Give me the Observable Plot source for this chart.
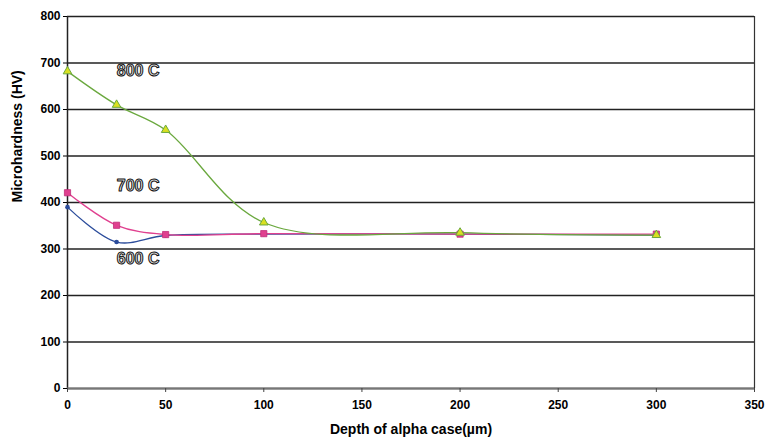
<!DOCTYPE html>
<html><head><meta charset="utf-8">
<script src="https://cdn.jsdelivr.net/npm/d3@7"></script>
<script src="https://cdn.jsdelivr.net/npm/@observablehq/plot@0.6"></script>
<style>
body{margin:0;background:#fff;font-family:"Liberation Sans",Arial,sans-serif;}
</style></head><body>
<div id="chart"></div>
<script>
const depth = [0, 25, 50, 100, 200, 300];
const hv800 = [682, 610, 556, 357, 335, 330];
const hv700 = [421, 351, 331, 333, 332, 332];
const hv600 = [390, 315, 329, 332, 332, 330];
const seriesNames = ["600 C", "700 C", "800 C"];
const labelPos = [{x: 36, y: 278}, {x: 36, y: 435}, {x: 36, y: 684}];
const xTicks = [0, 50, 100, 150, 200, 250, 300, 350];
const yTicks = [0, 100, 200, 300, 400, 500, 600, 700, 800];

const colors = {"800 C": "#6aa83e", "700 C": "#e0408f", "600 C": "#2b4c9b"};
const values = [hv600, hv700, hv800];
const data = seriesNames.flatMap((s, i) => depth.map((d, j) => ({series: s, x: d, y: values[i][j]})));
const labels = seriesNames.map((s, i) => ({series: s, ...labelPos[i]}));

const chart = Plot.plot({
  width: 769, height: 445,
  marginLeft: 67, marginRight: 15, marginTop: 16, marginBottom: 57,
  style: {fontFamily: "'Liberation Sans', Arial, sans-serif", fontSize: "12px", fontWeight: "bold", color: "#000"},
  x: {domain: [0, 350], ticks: xTicks, label: null},
  y: {domain: [0, 800], ticks: yTicks, label: null},
  marks: [
    Plot.gridY(yTicks, {stroke: "#222", strokeOpacity: 1, strokeWidth: 1.3}),
    Plot.ruleX([350], {stroke: "#333", strokeWidth: 1.2}),
    Plot.ruleX([0], {stroke: "#222", strokeWidth: 1.5}),
    Plot.ruleY([0], {stroke: "#777", strokeWidth: 2}),
    Plot.axisX({ticks: xTicks, tickSize: 4, tickPadding: 8, stroke: "#444", fontWeight: "bold", fontSize: 12}),
    Plot.axisY({ticks: yTicks, tickSize: 4, tickPadding: 3, fontWeight: "bold", fontSize: 12}),
    Plot.line(data, {x: "x", y: "y", z: "series", stroke: d => colors[d.series], curve: "catmull-rom", strokeWidth: 1.3}),
    Plot.dot(data.filter(d => d.series === "600 C"), {x: "x", y: "y", symbol: "circle", r: 2.3, fill: "#2b4c9b"}),
    Plot.dot(data.filter(d => d.series === "700 C"), {x: "x", y: "y", symbol: "square", r: 3.5, fill: "#e0408f", stroke: "#c0307a", strokeWidth: 0.8}),
    Plot.dot(data.filter(d => d.series === "800 C"), {x: "x", y: "y", symbol: "triangle", r: 3.2, fill: "#d9e021", stroke: "#6aa83e", strokeWidth: 1}),
    Plot.text(labels, {x: "x", y: "y", text: "series", fill: "#e4e4e4", stroke: "#111", strokeWidth: 1, fontSize: 16, fontWeight: "bold", paintOrder: "fill", fontFamily: "'Liberation Sans Narrow', 'Liberation Sans', Arial, sans-serif"}),
    Plot.text(["Microhardness (HV)"], {frameAnchor: "left", rotate: -90, dx: -50, fontSize: 14, fontWeight: "bold"}),
    Plot.text(["Depth of alpha case(\u00b5m)"], {frameAnchor: "bottom", dy: 45, fontSize: 14, fontWeight: "bold"})
  ]
});
document.getElementById("chart").appendChild(chart);
</script>
</body></html>
